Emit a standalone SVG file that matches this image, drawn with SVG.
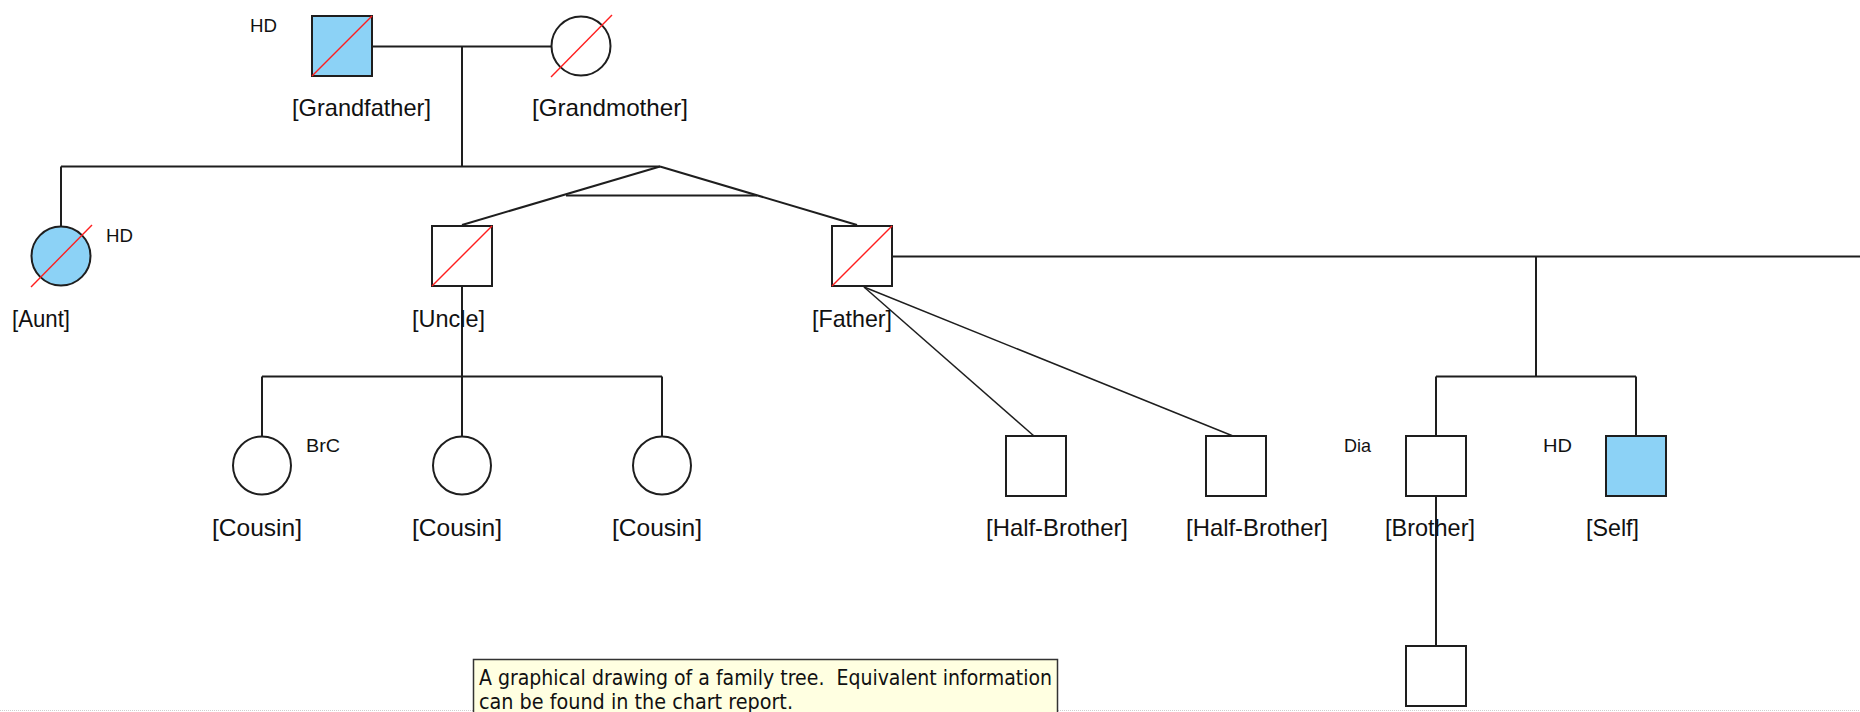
<svg xmlns="http://www.w3.org/2000/svg" width="1860" height="712" viewBox="0 0 1860 712">
<style>
.bg{fill:#ffffff}
.c{stroke:#1e1e1e;stroke-width:2;fill:none}
.d{stroke:#1e1e1e;stroke-width:1.5;fill:none}
.n{stroke:#1e1e1e;stroke-width:2;fill:#ffffff}
.a{stroke:#1e1e1e;stroke-width:2;fill:#8cd2f6}
.x{stroke:#ff1e1e;stroke-width:1.4}
.l{font-family:"Liberation Sans",Arial,sans-serif;font-size:24px;fill:#111}
.s{font-family:"Liberation Sans",Arial,sans-serif;font-size:19px;fill:#111}
.t{font-family:"DejaVu Sans","Liberation Sans",sans-serif;font-size:21px;fill:#111;white-space:pre}
</style>
<rect class="bg" x="0" y="0" width="1860" height="712"/>
<line x1="0" y1="710.5" x2="1860" y2="710.5" stroke="#cfcfcf" stroke-width="1" stroke-dasharray="1 1"/>
<g id="connectors">
  <line class="c" x1="373" y1="46.5" x2="551" y2="46.5"/>
  <line class="c" x1="462" y1="46.5" x2="462" y2="166.5"/>
  <line class="c" x1="61" y1="166.5" x2="660" y2="166.5"/>
  <line class="c" x1="61" y1="166.5" x2="61" y2="226"/>
  <line class="c" x1="660" y1="166.5" x2="462" y2="225"/>
  <line class="c" x1="660" y1="166.5" x2="857" y2="225"/>
  <line class="c" x1="566" y1="195.5" x2="757" y2="195.5"/>
  <line class="c" x1="893" y1="256.5" x2="1860" y2="256.5"/>
  <line class="c" x1="1536" y1="256.5" x2="1536" y2="376.5"/>
  <line class="c" x1="1436" y1="376.5" x2="1636" y2="376.5"/>
  <line class="c" x1="1436" y1="376.5" x2="1436" y2="436"/>
  <line class="c" x1="1636" y1="376.5" x2="1636" y2="436"/>
  <line class="c" x1="462" y1="287" x2="462" y2="436"/>
  <line class="c" x1="262" y1="376.5" x2="662" y2="376.5"/>
  <line class="c" x1="262" y1="376.5" x2="262" y2="436"/>
  <line class="c" x1="662" y1="376.5" x2="662" y2="436"/>
  <line class="d" x1="864" y1="287" x2="1034" y2="436"/>
  <line class="d" x1="864" y1="287" x2="1233" y2="436"/>
  <line class="c" x1="1436" y1="497" x2="1436" y2="646"/>
</g>
<g id="grandfather">
  <rect class="a" x="312" y="16" width="60" height="60"/>
  <line class="x" x1="312" y1="76" x2="372" y2="16"/>
  <text class="s" x="250" y="32" textLength="27" lengthAdjust="spacingAndGlyphs">HD</text>
  <text class="l" x="292" y="116" textLength="139" lengthAdjust="spacingAndGlyphs">[Grandfather]</text>
</g>
<g id="grandmother">
  <circle class="n" cx="581" cy="46" r="29.5"/>
  <line class="x" x1="551" y1="77" x2="612" y2="15"/>
  <text class="l" x="532" y="116" textLength="156" lengthAdjust="spacingAndGlyphs">[Grandmother]</text>
</g>
<g id="aunt">
  <circle class="a" cx="61" cy="256" r="29.5"/>
  <line class="x" x1="31" y1="287" x2="92" y2="225"/>
  <text class="s" x="106" y="242" textLength="27" lengthAdjust="spacingAndGlyphs">HD</text>
  <text class="l" x="12" y="327" textLength="58" lengthAdjust="spacingAndGlyphs">[Aunt]</text>
</g>
<g id="uncle">
  <rect class="n" x="432" y="226" width="60" height="60"/>
  <line class="x" x1="432" y1="286" x2="492" y2="226"/>
  <text class="l" x="412" y="327" textLength="73" lengthAdjust="spacingAndGlyphs">[Uncle]</text>
</g>
<g id="father">
  <rect class="n" x="832" y="226" width="60" height="60"/>
  <line class="x" x1="832" y1="286" x2="892" y2="226"/>
  <text class="l" x="812" y="327" textLength="80" lengthAdjust="spacingAndGlyphs">[Father]</text>
</g>
<g id="cousin1">
  <circle class="n" cx="262" cy="465.5" r="29"/>
  <text class="s" x="306" y="452" textLength="34" lengthAdjust="spacingAndGlyphs">BrC</text>
  <text class="l" x="212" y="536" textLength="90" lengthAdjust="spacingAndGlyphs">[Cousin]</text>
</g>
<g id="cousin2">
  <circle class="n" cx="462" cy="465.5" r="29"/>
  <text class="l" x="412" y="536" textLength="90" lengthAdjust="spacingAndGlyphs">[Cousin]</text>
</g>
<g id="cousin3">
  <circle class="n" cx="662" cy="465.5" r="29"/>
  <text class="l" x="612" y="536" textLength="90" lengthAdjust="spacingAndGlyphs">[Cousin]</text>
</g>
<g id="halfbrother1">
  <rect class="n" x="1006" y="436" width="60" height="60"/>
  <text class="l" x="986" y="536" textLength="142" lengthAdjust="spacingAndGlyphs">[Half-Brother]</text>
</g>
<g id="halfbrother2">
  <rect class="n" x="1206" y="436" width="60" height="60"/>
  <text class="l" x="1186" y="536" textLength="142" lengthAdjust="spacingAndGlyphs">[Half-Brother]</text>
</g>
<g id="brother">
  <rect class="n" x="1406" y="436" width="60" height="60"/>
  <text class="s" x="1344" y="452" textLength="27" lengthAdjust="spacingAndGlyphs">Dia</text>
  <text class="l" x="1385" y="536" textLength="90" lengthAdjust="spacingAndGlyphs">[Brother]</text>
</g>
<g id="self">
  <rect class="a" x="1606" y="436" width="60" height="60"/>
  <text class="s" x="1543" y="452" textLength="29" lengthAdjust="spacingAndGlyphs">HD</text>
  <text class="l" x="1586" y="536" textLength="53" lengthAdjust="spacingAndGlyphs">[Self]</text>
</g>
<g id="nephew">
  <rect class="n" x="1406" y="646" width="60" height="60"/>
</g>
<g id="tooltip">
  <rect x="473.5" y="659.5" width="584" height="60" fill="#ffffe1" stroke="#333333" stroke-width="1.5"/>
  <text class="t" x="479" y="685" textLength="573" lengthAdjust="spacingAndGlyphs">A graphical drawing of a family tree.  Equivalent information</text>
  <text class="t" x="479" y="709" textLength="314" lengthAdjust="spacingAndGlyphs">can be found in the chart report.</text>
</g>
</svg>
